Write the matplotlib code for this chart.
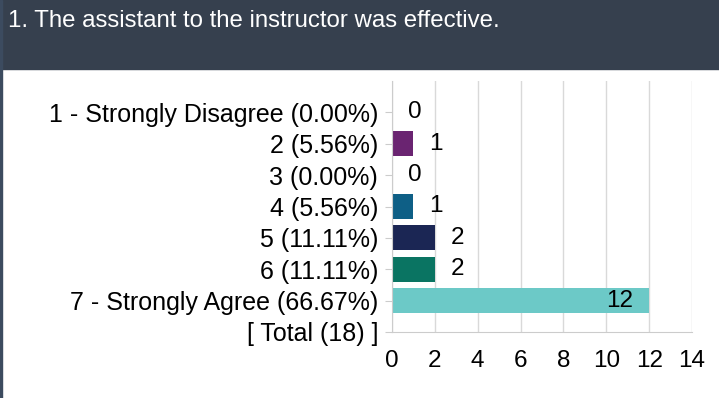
import matplotlib.pyplot as plt
from matplotlib.patches import Rectangle

plt.rcParams['font.family'] = ['Liberation Sans', 'DejaVu Sans']

# Survey responses for the question
question = "1. The assistant to the instructor was effective."
labels = ["1 - Strongly Disagree (0.00%)", "2 (5.56%)", "3 (0.00%)", "4 (5.56%)",
          "5 (11.11%)", "6 (11.11%)", "7 - Strongly Agree (66.67%)", "[ Total (18) ]"]
counts = [0, 1, 0, 1, 2, 2, 12]
colors = ['#6a2471', '#6a2471', '#0e5f86', '#0e5f86', '#1b2654', '#0a7462', '#6cc9c7']
xticks = [0, 2, 4, 6, 8, 10, 12, 14]

W, H = 719, 398
fig = plt.figure(figsize=(W / 100, H / 100), dpi=100)

# dark header band and left border
fig.patches.append(Rectangle((0, 1 - 69 / H), 1, 69 / H, transform=fig.transFigure,
                             color='#36404e', zorder=0))
fig.patches.append(Rectangle((0, 0), 2.2 / W, 1, transform=fig.transFigure,
                             color='#3c4b5f', zorder=0))
fig.text(8 / W, 1 - 21 / H, question, color='white', fontsize=17.3, va='center', ha='left')

# plot area in pixels: x 392..692, y 81..332
ax = fig.add_axes([392 / W, 1 - 332 / H, 300 / W, 251 / H])
ypos = list(range(len(labels)))
ax.barh(ypos[:len(counts)], counts, height=0.8, color=colors, zorder=2)
ax.set_xlim(0, 14)
ax.set_ylim(7, -1.0)
ax.set_xticks(xticks)
ax.set_yticks(ypos)
ax.set_yticklabels(labels)

for y, c in zip(ypos, counts):
    if c >= 10:
        ax.text(c - 0.75, y, str(c), ha='right', va='center', fontsize=17.5, color='black', zorder=3)
    else:
        ax.text(c + 0.75, y, str(c), ha='left', va='center', fontsize=17.5, color='black', zorder=3)

ax.grid(axis='x', color='#d9d9d9', linewidth=1, zorder=0)
for s in ['top', 'right']:
    ax.spines[s].set_visible(False)
ax.spines['left'].set_color('#cccccc')
ax.spines['bottom'].set_color('#cccccc')
ax.tick_params(axis='y', length=5, color='#cccccc', labelsize=18, pad=5)
ax.tick_params(axis='x', length=0, labelsize=17.5, pad=13)

fig.savefig('out.png', dpi=100)
